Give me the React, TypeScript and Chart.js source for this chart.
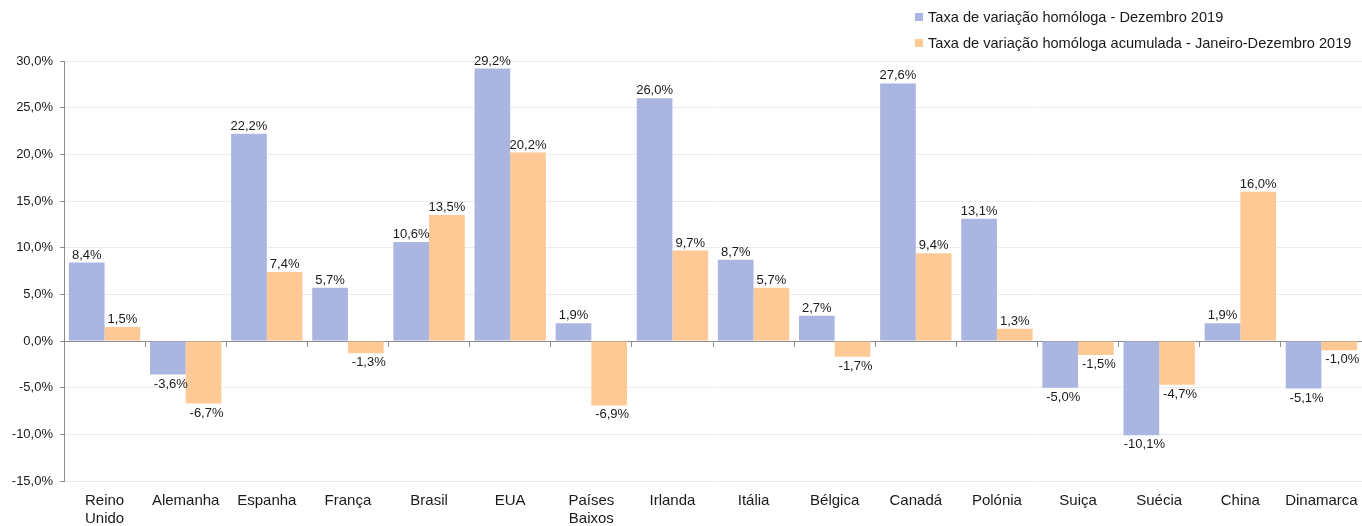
import React, { useEffect, useRef } from "react";
import { Chart, registerables } from "chart.js";

Chart.register(...registerables);

const categories: (string | string[])[] = [
  ["Reino", "Unido"],
  "Alemanha",
  "Espanha",
  "França",
  "Brasil",
  "EUA",
  ["Países", "Baixos"],
  "Irlanda",
  "Itália",
  "Bélgica",
  "Canadá",
  "Polónia",
  "Suiça",
  "Suécia",
  "China",
  "Dinamarca",
];

const seriesNames = [
  "Taxa de variação homóloga - Dezembro 2019",
  "Taxa de variação homóloga acumulada - Janeiro-Dezembro 2019",
];

const dezembro = [8.4, -3.6, 22.2, 5.7, 10.6, 29.2, 1.9, 26.0, 8.7, 2.7, 27.6, 13.1, -5.0, -10.1, 1.9, -5.1];
const acumulada = [1.5, -6.7, 7.4, -1.3, 13.5, 20.2, -6.9, 9.7, 5.7, -1.7, 9.4, 1.3, -1.5, -4.7, 16.0, -1.0];

const yMin = -15;
const yMax = 30;
const yStep = 5;

const colors = ["#AAB6E0", "#FFC996"];
const FONT = '"Liberation Sans", Arial, sans-serif';

const fmt = (v: number) => v.toFixed(1).replace(".", ",") + "%";

// Writes each bar's value above (positive) or below (negative) its end.
const valueLabels = {
  id: "valueLabels",
  afterDatasetsDraw(chart: any) {
    const ctx = chart.ctx;
    ctx.save();
    ctx.font = `13px ${FONT}`;
    ctx.fillStyle = "#1a1a1a";
    ctx.textAlign = "center";
    chart.data.datasets.forEach((ds: any, i: number) => {
      const meta = chart.getDatasetMeta(i);
      meta.data.forEach((bar: any, j: number) => {
        const v = ds.data[j] as number;
        const { x, y } = bar.getProps(["x", "y"], true);
        if (v >= 0) {
          ctx.textBaseline = "bottom";
          ctx.fillText(fmt(v), x, y - 1);
        } else {
          ctx.textBaseline = "top";
          ctx.fillText(fmt(v), x + 3, y + 3);
        }
      });
    });
    ctx.restore();
  },
};

function Legend() {
  return (
    <div
      style={{
        position: "absolute",
        left: 915,
        top: 4,
        fontFamily: FONT,
        fontSize: 14.6,
        color: "#1a1a1a",
        lineHeight: "26px",
      }}
    >
      {seriesNames.map((name, i) => (
        <div key={name} style={{ display: "flex", alignItems: "center", height: 26, whiteSpace: "nowrap" }}>
          <span style={{ width: 8, height: 8, background: colors[i], display: "inline-block", marginRight: 5 }} />
          <span>{name}</span>
        </div>
      ))}
    </div>
  );
}

const noSidePadding = (scale: any) => {
  scale.paddingLeft = 0;
  scale.paddingRight = 0;
};

export default function App() {
  const canvasRef = useRef<HTMLCanvasElement | null>(null);

  useEffect(() => {
    if (!canvasRef.current) return;
    const chart = new Chart(canvasRef.current, {
      type: "bar",
      data: {
        labels: categories,
        datasets: [
          { label: seriesNames[0], data: dezembro, backgroundColor: colors[0], categoryPercentage: 0.88, barPercentage: 1 },
          { label: seriesNames[1], data: acumulada, backgroundColor: colors[1], categoryPercentage: 0.88, barPercentage: 1 },
        ],
      },
      options: {
        animation: false,
        responsive: false,
        layout: { padding: { top: 61, left: 0, right: 0, bottom: 0 } },
        plugins: { legend: { display: false }, tooltip: { enabled: false } },
        scales: {
          x: {
            type: "category",
            position: { y: 0 } as any,
            offset: true,
            ticks: { display: false },
            grid: { display: true, drawOnChartArea: false, drawTicks: true, tickLength: 5, color: "#8c8c8c", offset: true },
            border: { display: true, color: "#8c8c8c", width: 1 },
            afterFit: noSidePadding,
          },
          x2: {
            type: "category",
            position: "bottom",
            offset: true,
            grid: { display: false },
            border: { display: false },
            ticks: { font: { family: FONT, size: 15 }, color: "#1a1a1a", padding: 3, maxRotation: 0, autoSkip: false },
            afterFit: (scale: any) => {
              noSidePadding(scale);
              scale.height = 45;
            },
          },
          y: {
            min: yMin,
            max: yMax,
            ticks: {
              stepSize: yStep,
              font: { family: FONT, size: 13 },
              color: "#1a1a1a",
              padding: 7,
              callback: (v: any) => fmt(Number(v)),
            },
            grid: { color: "#ececec", tickColor: "#8c8c8c", tickLength: 4 },
            border: { display: true, color: "#8c8c8c" },
            afterFit: (scale: any) => {
              scale.width = 64;
            },
          },
        },
      },
      plugins: [valueLabels],
    });
    return () => chart.destroy();
  }, []);

  return (
    <div style={{ position: "absolute", left: 0, top: 0, width: 1362, height: 526, background: "#fff" }}>
      <canvas ref={canvasRef} width={1362} height={526} style={{ display: "block" }} />
      <Legend />
    </div>
  );
}
